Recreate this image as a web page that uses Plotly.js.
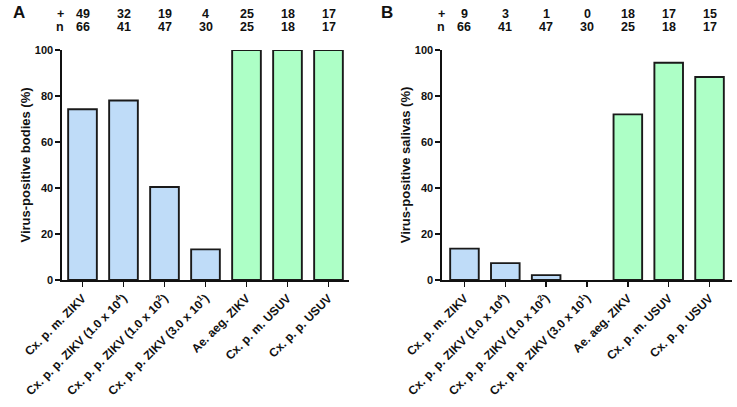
<!DOCTYPE html>
<html>
<head>
<meta charset="utf-8">
<script src="https://cdn.plot.ly/plotly-3.0.1.min.js"></script>
<style>html,body{margin:0;padding:0;background:#fff}#chart{width:737px;height:407px}</style>
</head>
<body>
<div id="chart"></div>
<script>
const categories = [
  "Cx. p. m. ZIKV",
  "Cx. p. p. ZIKV (1.0 x 10<sup>4</sup>)",
  "Cx. p. p. ZIKV (1.0 x 10<sup>2</sup>)",
  "Cx. p. p. ZIKV (3.0 x 10<sup>1</sup>)",
  "Ae. aeg. ZIKV",
  "Cx. p. m. USUV",
  "Cx. p. p. USUV"
];
const bodiesPositive = [49, 32, 19, 4, 25, 18, 17];
const bodiesN = [66, 41, 47, 30, 25, 18, 17];
const salivasPositive = [9, 3, 1, 0, 18, 17, 15];
const salivasN = [66, 41, 47, 30, 25, 18, 17];
const barColors = ["#bfdcf8", "#bfdcf8", "#bfdcf8", "#bfdcf8", "#adffc6", "#adffc6", "#adffc6"];
const yTicks = [0, 20, 40, 60, 80, 100];

const pct = (p, n) => p.map((v, i) => 100 * v / n[i]);
const idx = categories.map((_, i) => i);
const FONT = "Liberation Sans, Arial, sans-serif";

function barTrace(vals, xa, ya) {
  return {
    type: "bar", x: idx, y: vals, xaxis: xa, yaxis: ya, width: 0.7,
    marker: {color: barColors, line: {color: "#1a1a1a", width: vals.map(v => v > 0 ? 1.9 : 0)}},
    hoverinfo: "y", showlegend: false
  };
}

const yDomain = [1 - 280 / 407, 1 - 50 / 407];
function xAxis(d0, d1, r0, r1, anchor) {
  return {
    domain: [d0 / 737, d1 / 737], range: [r0, r1], anchor: anchor,
    tickmode: "array", tickvals: idx, ticktext: categories, tickangle: -45,
    ticks: "outside", ticklen: 5, tickwidth: 1.6, tickcolor: "#111",
    showline: true, linecolor: "#111", linewidth: 1.6, showgrid: false, zeroline: false,
    tickfont: {family: FONT, size: 12, color: "#111", weight: "bold"}, fixedrange: true
  };
}
function yAxis(title, anchor) {
  return {
    domain: yDomain, range: [0, 100], anchor: anchor,
    tickmode: "array", tickvals: yTicks,
    ticks: "outside", ticklen: 5, tickwidth: 1.6, tickcolor: "#111",
    showline: true, linecolor: "#111", linewidth: 1.6, showgrid: false, zeroline: false,
    tickfont: {family: FONT, size: 11, color: "#111", weight: "bold"},
    title: {text: title, font: {family: FONT, size: 13, color: "#111", weight: "bold"}, standoff: 1},
    fixedrange: true
  };
}

const annotations = [];
function countRow(pos, n, xref, signX) {
  const yPlus = 1 - 14 / 407, yN = 1 - 27 / 407;
  const f = {family: FONT, size: 12.5, color: "#111", weight: "bold"};
  annotations.push({xref: "paper", yref: "paper", x: signX / 737, y: yPlus, text: "+", showarrow: false,
    font: f, xanchor: "center", yanchor: "middle"});
  annotations.push({xref: "paper", yref: "paper", x: signX / 737, y: yN, text: "n", showarrow: false,
    font: f, xanchor: "center", yanchor: "middle"});
  pos.forEach((v, i) => {
    annotations.push({xref: xref, yref: "paper", x: i, y: yPlus, text: String(v), showarrow: false,
      font: f, xanchor: "center", yanchor: "middle"});
    annotations.push({xref: xref, yref: "paper", x: i, y: yN, text: String(n[i]), showarrow: false,
      font: f, xanchor: "center", yanchor: "middle"});
  });
}
countRow(bodiesPositive, bodiesN, "x", 60);
countRow(salivasPositive, salivasN, "x2", 441);
annotations.push({xref: "paper", yref: "paper", x: 11 / 737, y: 1 - 13 / 407, text: "A", showarrow: false,
  font: {family: FONT, size: 17, color: "#111", weight: "bold"}, xanchor: "left", yanchor: "middle"});
annotations.push({xref: "paper", yref: "paper", x: 379 / 737, y: 1 - 13 / 407, text: "B", showarrow: false,
  font: {family: FONT, size: 17, color: "#111", weight: "bold"}, xanchor: "left", yanchor: "middle"});

const data = [
  barTrace(pct(bodiesPositive, bodiesN), "x", "y"),
  barTrace(pct(salivasPositive, salivasN), "x2", "y2")
];
const layout = {
  width: 737, height: 407, margin: {l: 0, r: 0, t: 0, b: 0},
  paper_bgcolor: "#fff", plot_bgcolor: "#fff", bargap: 0.3,
  font: {family: FONT, color: "#111"},
  xaxis: xAxis(62, 349, -0.5, 6.5, "y"),
  yaxis: yAxis("Virus-positive bodies (%)", "x"),
  xaxis2: xAxis(442, 732, -0.55, 6.55, "y2"),
  yaxis2: yAxis("Virus-positive salivas (%)", "x2"),
  annotations: annotations
};
Plotly.newPlot("chart", data, layout, {displayModeBar: false, staticPlot: true});
</script>
</body>
</html>
